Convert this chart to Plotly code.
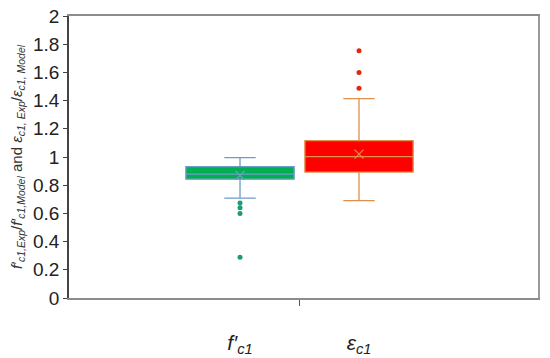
import plotly.graph_objects as go

# Data
categories = ["<i>f′</i><sub><i>c1</i></sub>", "<i>ε</i><sub><i>c1</i></sub>"]
cat_pos = [0, 1]
q1 = [0.843, 0.893]
median = [0.879, 1.003]
q3 = [0.932, 1.116]
lower_fence = [0.709, 0.690]
upper_fence = [0.996, 1.414]
means = [0.869, 1.020]
outliers_f = [0.673, 0.640, 0.599, 0.289]
outliers_e = [1.753, 1.600, 1.487]
y_ticks = [0, 0.2, 0.4, 0.6, 0.8, 1, 1.2, 1.4, 1.6, 1.8, 2]
y_tick_text = ["0", "0.2", "0.4", "0.6", "0.8", "1", "1.2", "1.4", "1.6", "1.8", "2"]

fills = ["#00B050", "#FF0000"]
lines = ["#6E9BC8", "#E0904E"]
dots = ["#1E9A78", "#E02810"]
outliers = [outliers_f, outliers_e]

fig = go.Figure()
for i in range(2):
    fig.add_trace(go.Box(
        x=[cat_pos[i]], q1=[q1[i]], median=[median[i]], q3=[q3[i]],
        lowerfence=[lower_fence[i]], upperfence=[upper_fence[i]],
        width=0.91, whiskerwidth=0.29,
        fillcolor=fills[i], line=dict(color=lines[i], width=1.3),
        boxpoints=False, showlegend=False, hoverinfo="skip",
    ))
    fig.add_trace(go.Scatter(
        x=[cat_pos[i]] * len(outliers[i]), y=outliers[i], mode="markers",
        marker=dict(color=dots[i], size=5), showlegend=False,
    ))
    fig.add_trace(go.Scatter(
        x=[cat_pos[i]], y=[means[i]], mode="markers",
        marker=dict(symbol="x-thin", size=9, line=dict(color=lines[i], width=1.2)),
        showlegend=False,
    ))

# dummy trace for right frame line
fig.add_trace(go.Scatter(x=[], y=[], yaxis="y2", showlegend=False))

ytitle = ("<i>f′</i><sub><i>c1,Exp</i></sub>/<i>f′</i><sub><i>c1,Model</i></sub>"
          " and <i>ε</i><sub><i>c1, Exp</i></sub>/<i>ε</i><sub><i>c1, Model</i></sub>")

fig.update_layout(
    width=542, height=350,
    margin=dict(l=61, r=12, t=7.5, b=59.5, autoexpand=False),
    plot_bgcolor="white", paper_bgcolor="white",
    font=dict(family="Liberation Sans, Arial, sans-serif", color="#222"),
    xaxis=dict(
        range=[-1.437, 2.504], tickvals=cat_pos, ticktext=categories,
        ticks="", showgrid=False, zeroline=False, automargin=False,
        showline=True, linecolor="#8C8C8C", linewidth=1.5, mirror=True,
        tickfont=dict(size=21, color="#222"), ticklabelstandoff=25,
        ticklabeloverflow="allow",
        minor=dict(tickvals=[0.5], ticks="outside", ticklen=6,
                   tickcolor="#555", tickwidth=1),
    ),
    yaxis=dict(
        range=[0, 2], tickvals=y_ticks, ticktext=y_tick_text,
        ticks="outside", ticklen=4, tickcolor="#444", tickwidth=1.2,
        showgrid=False, zeroline=False, automargin=False,
        showline=True, linecolor="#444", linewidth=1.8,
        tickfont=dict(size=19, color="#222"), ticklabeloverflow="allow",
        title=dict(text=ytitle, font=dict(size=15, color="#333"), standoff=8),
    ),
    yaxis2=dict(
        overlaying="y", side="right", range=[0, 2], showticklabels=False,
        ticks="", showgrid=False, zeroline=False, automargin=False,
        showline=True, linecolor="#9A9A9A", linewidth=2,
    ),
)

fig.write_html("out.html")
